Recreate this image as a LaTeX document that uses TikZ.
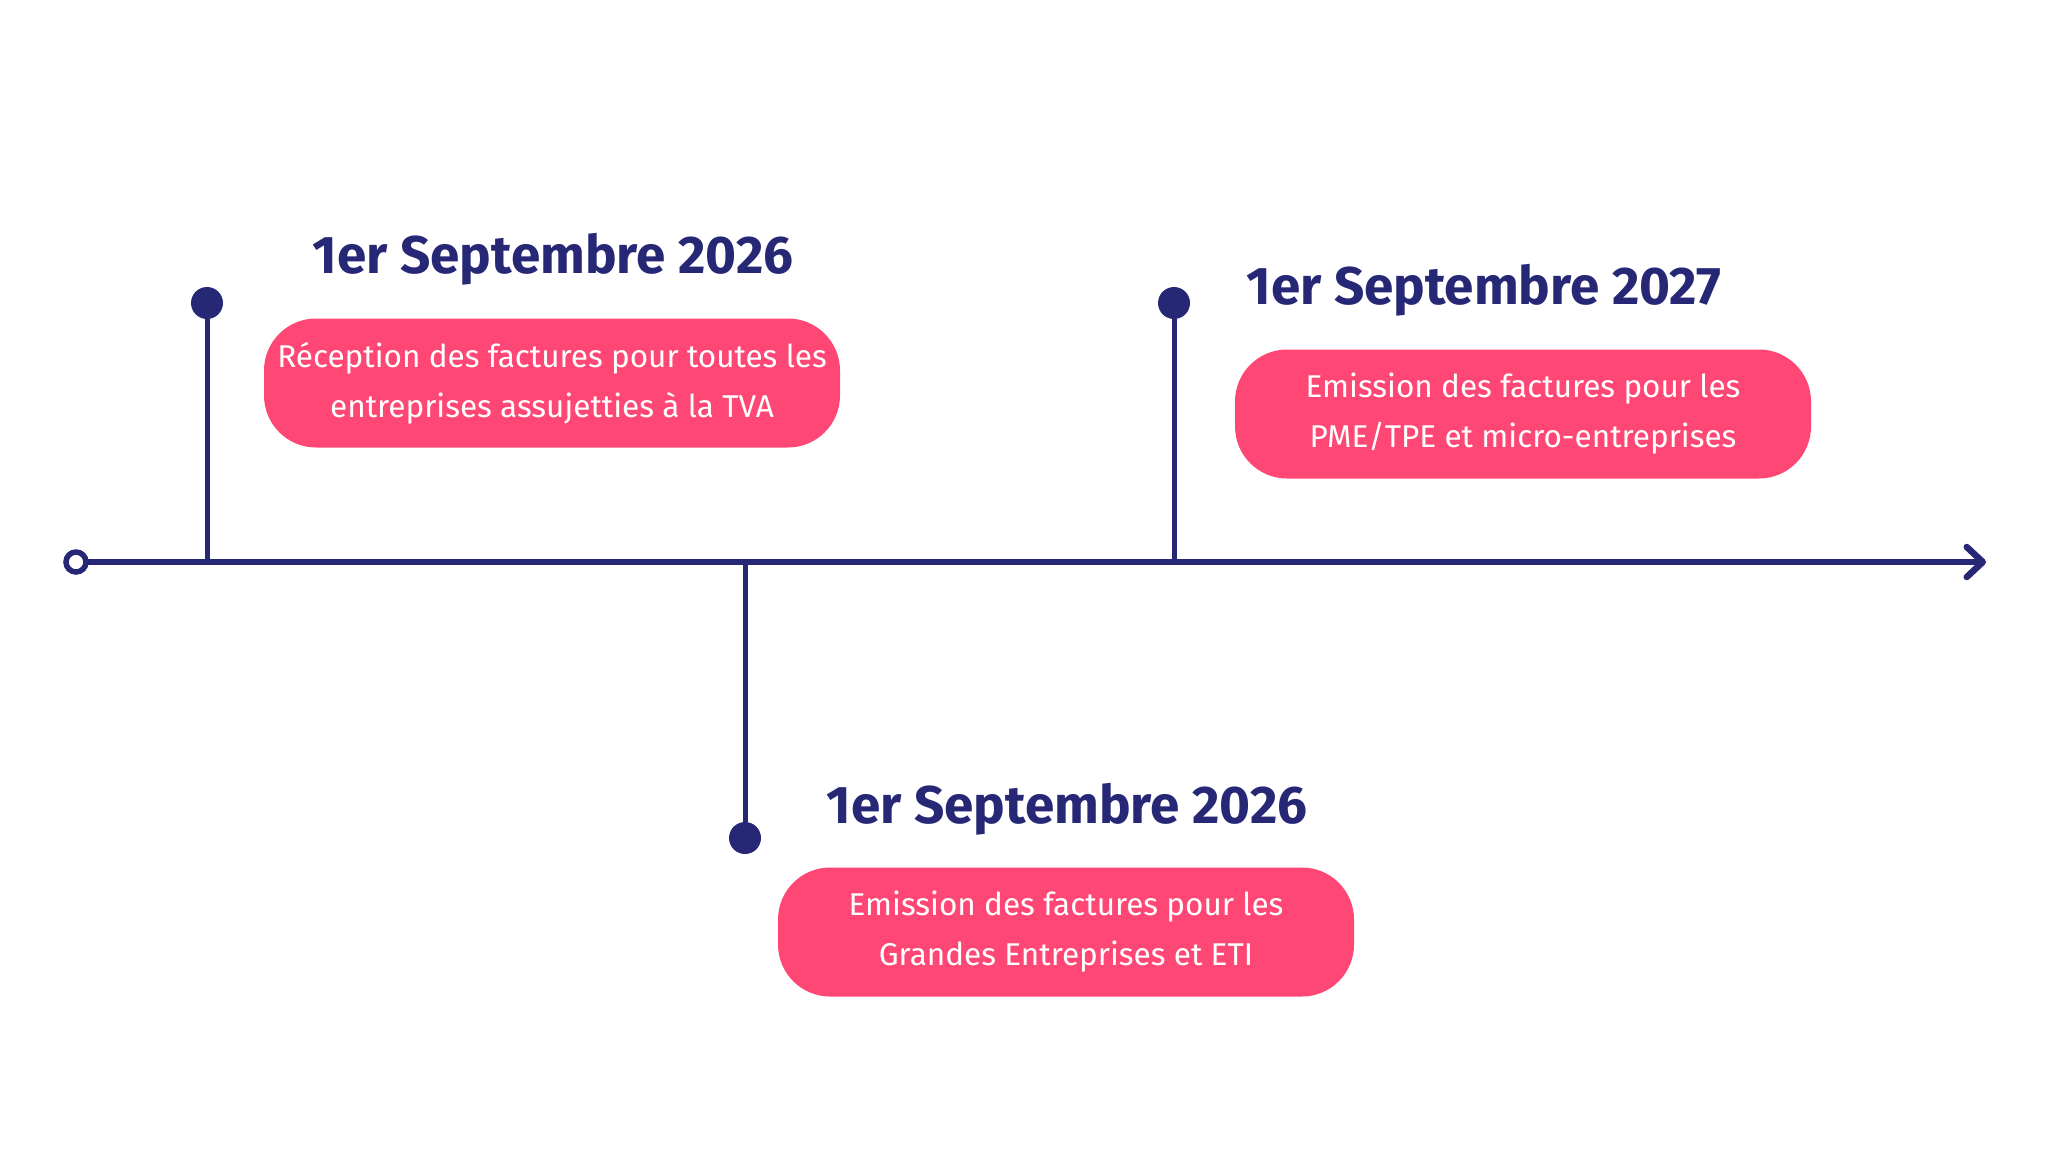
\documentclass[tikz,border=0pt]{standalone}
\usepackage{fontspec}
\setmainfont{Fira Sans}
\usetikzlibrary{arrows.meta}
\definecolor{navy}{RGB}{38,40,118}
\definecolor{rose}{RGB}{255,71,117}
\tikzset{
  axisline/.style={draw=navy, line width=6.5pt, line cap=round},
  stem/.style={draw=navy, line width=5pt},
  dotnode/.style={circle, fill=navy, inner sep=0pt, minimum size=32pt},
  startnode/.style={circle, draw=navy, fill=white, line width=5.5pt, inner sep=0pt, minimum size=20pt},
  datelabel/.style={text=navy, font=\bfseries\fontsize{53}{60}\selectfont, inner sep=0pt},
  infobox/.style={fill=rose, rounded corners=52pt, minimum width=576pt, minimum height=129pt,
    text=white, align=center, inner sep=0pt, font=\fontsize{31.5}{50}\selectfont},
}
\begin{document}
\begin{tikzpicture}[x=1pt,y=-1pt]
\useasboundingbox (0,0) rectangle (2048,1152);
% axis
\node[startnode] (start) at (76,562) {};
\coordinate (end) at (1986,562);
\draw[axisline, -{Straight Barb[round, length=16pt, width=30pt]}] (start) -- (end);
% junctions
\coordinate (j1) at (207,562);
\coordinate (j2) at (745,562);
\coordinate (j3) at (1174,562);
% dots
\node[dotnode] (d1) at (207,303) {};
\node[dotnode] (d2) at (745,838) {};
\node[dotnode] (d3) at (1174,303) {};
\draw[stem] (d1) -- (j1);
\draw[stem] (j2) -- (d2);
\draw[stem] (d3) -- (j3);
% titles
\node[datelabel] (t1) at (553,259) {1er Septembre 2026};
\node[datelabel] (t2) at (1484,290) {1er Septembre 2027};
\node[datelabel] (t3) at (1067,809) {1er Septembre 2026};
% boxes
\node[infobox] (b1) at (552,383) {Réception des factures pour toutes les\\entreprises assujetties à la TVA};
\node[infobox] (b2) at (1523,414) {Emission des factures pour les\\PME/TPE et micro-entreprises};
\node[infobox] (b3) at (1066,932) {Emission des factures pour les\\Grandes Entreprises et ETI};
\end{tikzpicture}
\end{document}
